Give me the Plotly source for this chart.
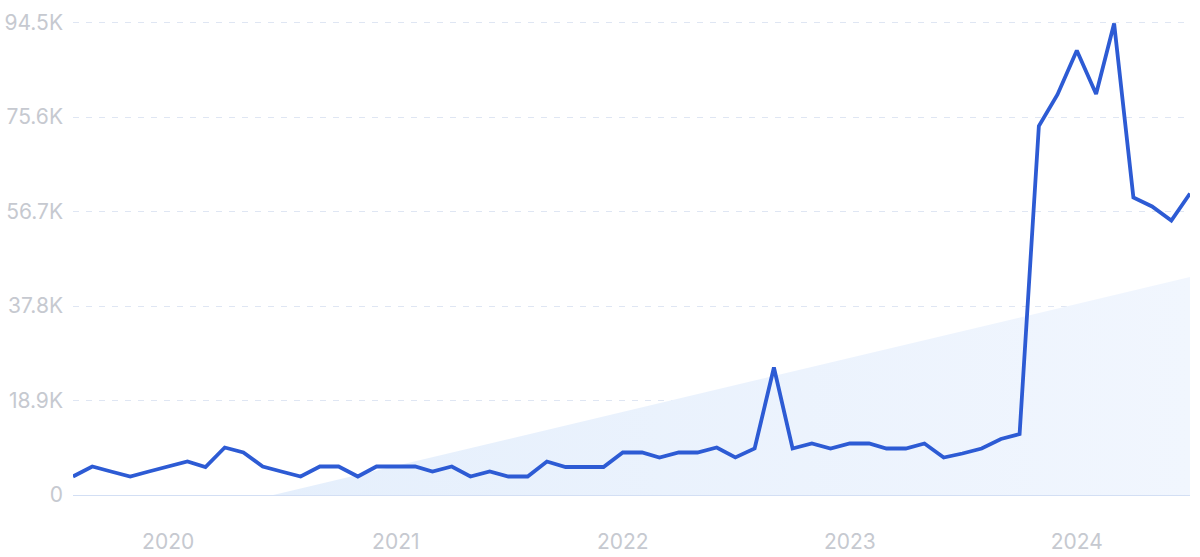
import plotly.graph_objects as go
import pandas as pd

# Monthly search volume, Aug 2019 - Jul 2024
months = pd.date_range("2019-08-01", "2024-07-01", freq="MS").strftime("%Y-%m-%d").tolist()
volume = [
    3700, 5700, 4700, 3700, 4700,            # Aug-Dec 2019
    5700, 6700, 5600, 9500, 8500, 5700,      # Jan-Jun 2020
    4700, 3700, 5700, 5700, 3700, 5700,      # Jul-Dec 2020
    5700, 5700, 4700, 5700, 3700, 4700,      # Jan-Jun 2021
    3700, 3700, 6700, 5600, 5600, 5600,      # Jul-Dec 2021
    8500, 8500, 7500, 8500, 8500, 9500,      # Jan-Jun 2022
    7500, 9300, 25500, 9300, 10300, 9300,    # Jul-Dec 2022
    10300, 10300, 9300, 9300, 10300, 7500,   # Jan-Jun 2023
    8300, 9300, 11200, 12200, 73800, 80100,  # Jul-Dec 2023
    88900, 80200, 94300, 59500, 57700, 54900,  # Jan-Jun 2024
    60300,                                   # Jul 2024
]

# Trend band (background)
trend_dates = ["2020-06-18", "2024-07-01"]
trend_values = [0, 43600]

# Axis ticks
y_tickvals = [0, 18900, 37800, 56700, 75600, 94500]
y_ticktext = ["0", "18.9K", "37.8K", "56.7K", "75.6K", "94.5K"]
x_tickvals = ["2020-01-01", "2021-01-01", "2022-01-01", "2023-01-01", "2024-01-01"]
x_ticktext = ["2020", "2021", "2022", "2023", "2024"]

fig = go.Figure()

fig.add_trace(go.Scatter(
    x=trend_dates, y=trend_values, mode="lines",
    line=dict(width=0, color="rgba(0,0,0,0)"),
    fill="tozeroy",
    fillgradient=dict(type="horizontal",
                      colorscale=[[0, "#e5effc"], [1, "#f1f6fe"]]),
    hoverinfo="skip", showlegend=False,
))

fig.add_trace(go.Scatter(
    x=months, y=volume, mode="lines",
    line=dict(color="#2d5bd4", width=3.8),
    showlegend=False, cliponaxis=False,
))

fig.update_layout(
    width=1200, height=557,
    margin=dict(l=73, r=10, t=19, b=62),
    paper_bgcolor="white", plot_bgcolor="white",
    font=dict(family="Inter, Roboto, sans-serif", color="#c6c9d0", size=20),
)

fig.update_xaxes(
    range=["2019-08-01", "2024-07-01"],
    tickvals=x_tickvals, ticktext=x_ticktext,
    showgrid=False, zeroline=False, showline=False,
    ticks="", ticklabelstandoff=32, automargin=False,
    tickfont=dict(size=21, color="#c6c9d0"),
)

fig.update_yaxes(
    range=[0, 95200],
    tickvals=y_tickvals, ticktext=y_ticktext,
    showgrid=True, gridcolor="#dfe6f3", griddash="6px,7px", gridwidth=1,
    zeroline=True, zerolinecolor="#d3dff4", zerolinewidth=1,
    showline=False, ticks="", ticklabelstandoff=9, automargin=False,
    tickfont=dict(size=21, color="#c6c9d0"),
)

fig.write_html("out.html", config={"displayModeBar": False},
               post_script="document.body.style.margin='0';")
